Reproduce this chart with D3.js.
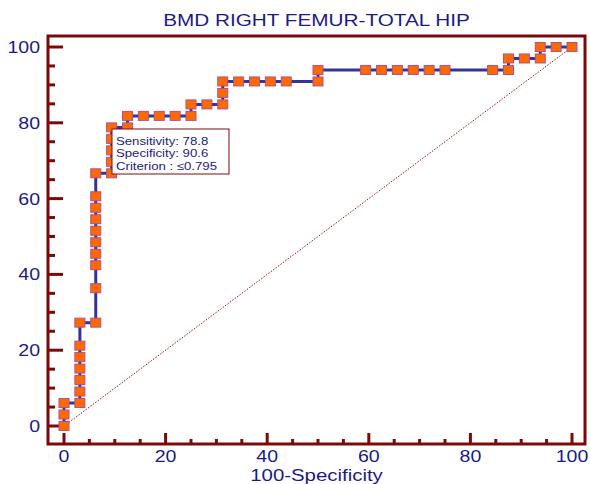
<!DOCTYPE html>
<html>
<head>
<meta charset="utf-8">
<script src="https://cdn.jsdelivr.net/npm/d3@7"></script>
<style>
body { margin: 0; background: #fff; }
text { font-family: "Liberation Sans", Arial, sans-serif; fill: #1a1a8a; }
</style>
</head>
<body>
<script>
var width = 590;
var height = 484;

// ROC curve points: 100-Specificity, Sensitivity
var fpr = [0, 0, 0, 3.125, 3.125, 3.125, 3.125, 3.125, 3.125, 3.125, 6.25, 6.25, 6.25, 6.25, 6.25, 6.25, 6.25, 6.25, 6.25, 6.25,
    9.375, 9.375, 9.375, 9.375, 9.375, 12.5, 12.5, 15.625, 18.75, 21.875, 25, 25, 28.125, 31.25, 31.25, 31.25,
    34.375, 37.5, 40.625, 43.75, 50, 50, 59.375, 62.5, 65.625, 68.75, 71.875, 75, 84.375, 87.5, 87.5, 90.625, 93.75, 93.75, 96.875, 100];
var sens = [0, 3.03, 6.06, 6.06, 9.09, 12.12, 15.15, 18.18, 21.21, 27.27, 27.27, 36.36, 42.42, 45.45, 48.48, 51.52, 54.55, 57.58, 60.61, 66.67,
    66.67, 69.7, 72.73, 75.76, 78.79, 78.79, 81.82, 81.82, 81.82, 81.82, 81.82, 84.85, 84.85, 84.85, 87.88, 90.91,
    90.91, 90.91, 90.91, 90.91, 90.91, 93.94, 93.94, 93.94, 93.94, 93.94, 93.94, 93.94, 93.94, 93.94, 96.97, 96.97, 96.97, 100, 100, 100];
var ticks = [0, 20, 40, 60, 80, 100];
var boxLines = ["Sensitivity: 78.8", "Specificity: 90.6", "Criterion : \u22640.795"];

var frame = {left: 48, top: 36, right: 585, bottom: 444};

var x = d3.scaleLinear().domain([0, 100]).range([64, 572]);
var y = d3.scaleLinear().domain([0, 100]).range([426, 47]);

var svg = d3.select("body").append("svg")
    .attr("width", width)
    .attr("height", height);

// the original text is drawn wider than Arial, so stretch it horizontally
function wideText(sel, str, tx, ty, size, sx, anchor) {
    return sel.append("text")
        .text(str)
        .attr("transform", "translate(" + tx + "," + ty + ") scale(" + sx + ",1)")
        .attr("text-anchor", anchor)
        .style("font-size", size + "px");
}

//frame
svg.append("rect")
    .attr("x", frame.left)
    .attr("y", frame.top)
    .attr("width", frame.right - frame.left)
    .attr("height", frame.bottom - frame.top)
    .attr("fill", "none")
    .attr("stroke", "#7a0a0a")
    .attr("stroke-width", 3);

//title
wideText(svg, "BMD RIGHT FEMUR-TOTAL HIP", (frame.left + frame.right) / 2, 26, 17, 1.22, "middle");

//ticks every 5, long ones every 20
var minor = d3.range(0, 101, 5);

svg.selectAll(".xtick").data(minor).enter().append("line")
    .attr("x1", function(d) { return x(d); })
    .attr("x2", function(d) { return x(d); })
    .attr("y1", frame.bottom)
    .attr("y2", function(d) { return d % 20 === 0 ? frame.bottom - 11 : frame.bottom - 5; })
    .attr("stroke", "#7a0a0a")
    .attr("stroke-width", 3);

svg.selectAll(".ytick").data(minor).enter().append("line")
    .attr("y1", function(d) { return y(d); })
    .attr("y2", function(d) { return y(d); })
    .attr("x1", frame.left)
    .attr("x2", function(d) { return d % 20 === 0 ? frame.left + 15 : frame.left + 7; })
    .attr("stroke", "#7a0a0a")
    .attr("stroke-width", 3);

ticks.forEach(function(d) {
    wideText(svg, d, x(d), 462, 17, 1.15, "middle");
    wideText(svg, d, 40, y(d) + 6, 17, 1.15, "end");
});

wideText(svg, "100-Specificity", (frame.left + frame.right) / 2, 481, 17, 1.2, "middle");

//diagonal reference
svg.append("line")
    .attr("x1", x(0)).attr("y1", y(0))
    .attr("x2", x(100)).attr("y2", y(100))
    .attr("stroke", "#a01010")
    .attr("stroke-width", 1)
    .attr("stroke-dasharray", "1.5,1.5");

var pts = fpr.map(function(d, i) { return [d, sens[i]]; });

var line = d3.line()
    .x(function(d) { return x(d[0]); })
    .y(function(d) { return y(d[1]); });

svg.append("path")
    .datum(pts)
    .attr("d", line)
    .attr("fill", "none")
    .attr("stroke", "#33339a")
    .attr("stroke-width", 3);

svg.selectAll(".dots").data(pts).enter().append("rect")
    .classed("dots", true)
    .attr("x", function(d) { return x(d[0]) - 5; })
    .attr("y", function(d) { return y(d[1]) - 4.5; })
    .attr("width", 10)
    .attr("height", 9)
    .attr("fill", "#ff6a00")
    .attr("stroke", "#b0508f")
    .attr("stroke-width", 1);

//criterion box
var box = svg.append("g");
box.append("rect")
    .attr("x", 112)
    .attr("y", 129)
    .attr("width", 117)
    .attr("height", 45)
    .attr("fill", "#fff")
    .attr("stroke", "#7a0a0a")
    .attr("stroke-width", 1);

boxLines.forEach(function(d, i) {
    wideText(box, d, 116, 144.5 + i * 12.5, 11, 1.2, "start");
});
</script>
</body>
</html>
